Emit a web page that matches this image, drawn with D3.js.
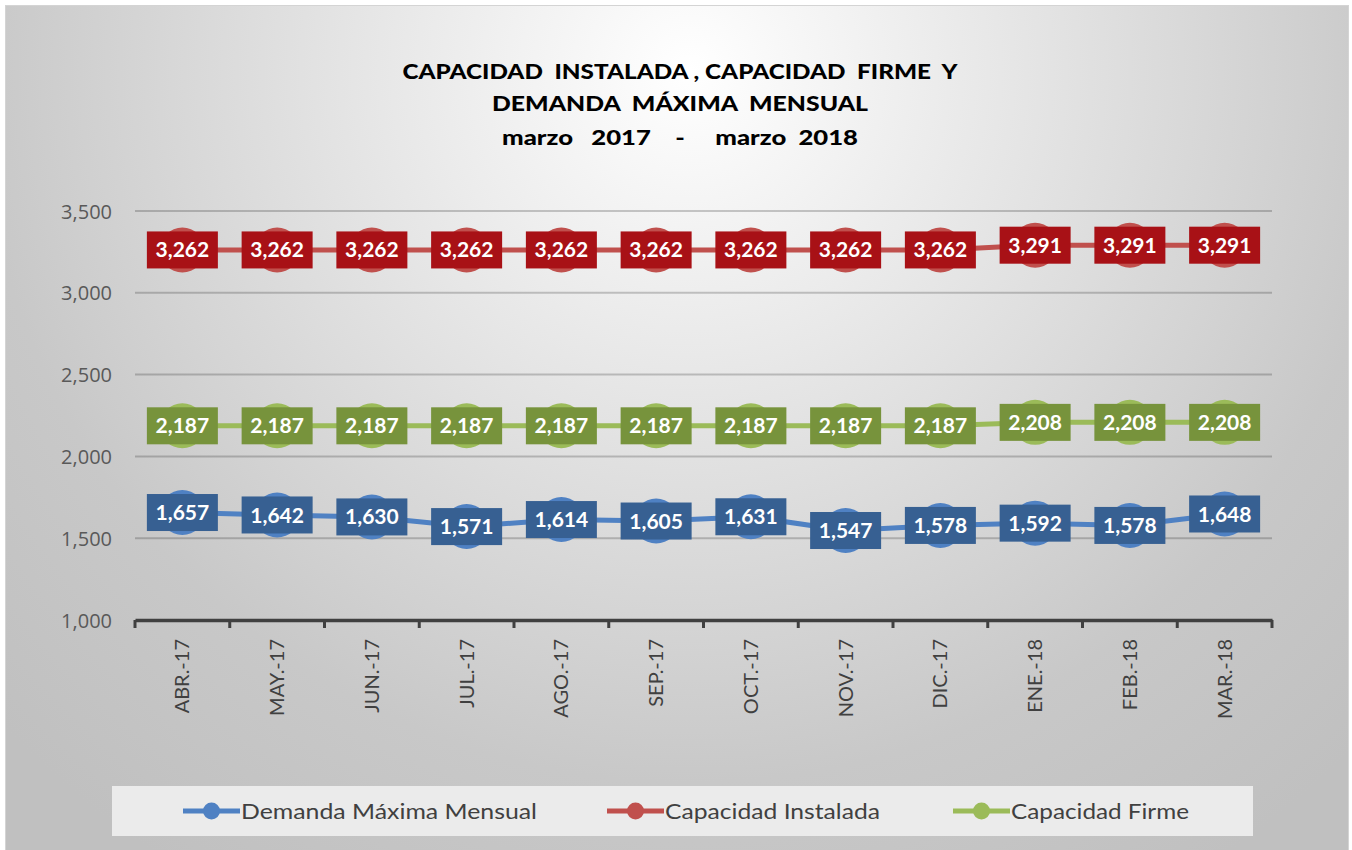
<!DOCTYPE html>
<html><head><meta charset="utf-8">
<script src="https://cdn.jsdelivr.net/npm/d3@7"></script>
<style>body{margin:0;background:#fff;}svg{display:block;}</style>
</head><body>
<svg id="c" width="1352" height="850"></svg>
<script>
const categories = ["ABR.-17","MAY.-17","JUN.-17","JUL.-17","AGO.-17","SEP.-17","OCT.-17","NOV.-17","DIC.-17","ENE.-18","FEB.-18","MAR.-18"];
const demanda = [1657,1642,1630,1571,1614,1605,1631,1547,1578,1592,1578,1648];
const instalada = [3262,3262,3262,3262,3262,3262,3262,3262,3262,3291,3291,3291];
const firme = [2187,2187,2187,2187,2187,2187,2187,2187,2187,2208,2208,2208];
const yTicks = [1000,1500,2000,2500,3000,3500];
const titleLines = ["CAPACIDAD  INSTALADA , CAPACIDAD  FIRME  Y","DEMANDA  MÁXIMA  MENSUAL","marzo   2017    -     marzo  2018"];

const series = [
  {name:"Demanda Máxima Mensual", values:demanda, line:"#4f81c3", label:"#376092"},
  {name:"Capacidad Instalada", values:instalada, line:"#c0504d", label:"#a81116"},
  {name:"Capacidad Firme", values:firme, line:"#9bbb59", label:"#77933c"}
];

const svg = d3.select("#c");
const defs = svg.append("defs");
const g = defs.append("radialGradient").attr("id","bg").attr("gradientUnits","userSpaceOnUse")
  .attr("cx",690).attr("cy",70).attr("r",950);
g.append("stop").attr("offset",0).attr("stop-color","#ffffff");
g.append("stop").attr("offset",0.75).attr("stop-color","#c8c8c8");
g.append("stop").attr("offset",1).attr("stop-color","#c0c0c0");

svg.append("rect").attr("x",5.5).attr("y",5.5).attr("width",1343).attr("height",850)
  .attr("fill","url(#bg)").attr("stroke","#d4d4d4");

const font = "Lato, 'Open Sans', sans-serif";

// title
svg.append("g").selectAll("text").data(titleLines).join("text")
  .attr("x",680).attr("y",(d,i)=>[79,111,145][i])
  .attr("text-anchor","middle").attr("font-family",font).attr("font-weight","900")
  .attr("font-size",21).attr("fill","#000")
  .attr("textLength",(d,i)=>[555,376,356][i]).attr("lengthAdjust","spacingAndGlyphs")
  .style("white-space","pre").text(d=>d);

const x = d3.scaleBand().domain(categories).range([135,1272]);
const y = d3.scaleLinear().domain([1000,3500]).range([620,211]);

// gridlines
svg.append("g").selectAll("line").data(yTicks.filter(t=>t>1000)).join("line")
  .attr("x1",135).attr("x2",1272).attr("y1",d=>y(d)).attr("y2",d=>y(d))
  .attr("stroke","rgba(0,0,0,0.2)").attr("stroke-width",2);

// y axis labels
const yAxis = d3.axisLeft(y).tickValues(yTicks).tickFormat(d3.format(",")).tickSize(0).tickPadding(0);
const ya = svg.append("g").attr("transform","translate(112,0)").call(yAxis);
ya.select(".domain").remove();
ya.selectAll("text").attr("font-family","'Open Sans', sans-serif").attr("font-size",20).attr("fill","#595959").attr("dy","0.35em");

// x axis
const xAxis = d3.axisBottom(x).tickSize(0).tickPadding(0);
const xa = svg.append("g").attr("transform","translate(0,620)").call(xAxis);
xa.select(".domain").attr("stroke","#404040").attr("stroke-width",3.5);
xa.selectAll(".tick text").attr("font-family",font).attr("font-size",20).attr("fill","#404040")
  .attr("transform","rotate(-90)").attr("text-anchor","end").attr("x",-19).attr("y",0).attr("dy","0.35em");
svg.append("g").selectAll("line").data(d3.range(categories.length+1)).join("line")
  .attr("x1",i=>135+i*x.step()).attr("x2",i=>135+i*x.step()).attr("y1",620).attr("y2",628)
  .attr("stroke","#404040").attr("stroke-width",3);

// series
const line = d3.line().x((d,i)=>x(categories[i])+x.bandwidth()/2).y(d=>y(d));
series.forEach(s=>{
  const gg = svg.append("g");
  gg.append("path").attr("d",line(s.values)).attr("fill","none").attr("stroke",s.line).attr("stroke-width",5);
  gg.selectAll("circle").data(s.values).join("circle")
    .attr("cx",(d,i)=>x(categories[i])+x.bandwidth()/2).attr("cy",d=>y(d)).attr("r",22.5)
    .attr("fill",s.line);
  const lb = gg.selectAll("g.lb").data(s.values).join("g").attr("class","lb")
    .attr("transform",(d,i)=>`translate(${x(categories[i])+x.bandwidth()/2},${y(d)})`);
  lb.append("rect").attr("x",-35.5).attr("y",-18.5).attr("width",71).attr("height",37).attr("fill",s.label);
  lb.append("text").attr("text-anchor","middle").attr("dy","0.36em").attr("font-family",font)
    .attr("font-weight","bold").attr("font-size",21).attr("fill","#fff").text(d=>d3.format(",")(d));
});

// legend
svg.append("rect").attr("x",112).attr("y",786).attr("width",1141).attr("height",50).attr("fill","#ebebeb");
const legX = [183,607,953];
const legW = [296,215,178];
series.forEach((s,i)=>{
  const lg = svg.append("g").attr("transform",`translate(${legX[i]},811)`);
  lg.append("line").attr("x1",0).attr("x2",57).attr("stroke",s.line).attr("stroke-width",5);
  lg.append("circle").attr("cx",28.5).attr("r",8.5).attr("fill",s.line);
  lg.append("text").attr("x",58).attr("dy","0.36em").attr("font-family",font).attr("font-size",22)
    .attr("fill","#404040").attr("textLength",legW[i]).attr("lengthAdjust","spacingAndGlyphs").text(s.name);
});
</script>
</body></html>
